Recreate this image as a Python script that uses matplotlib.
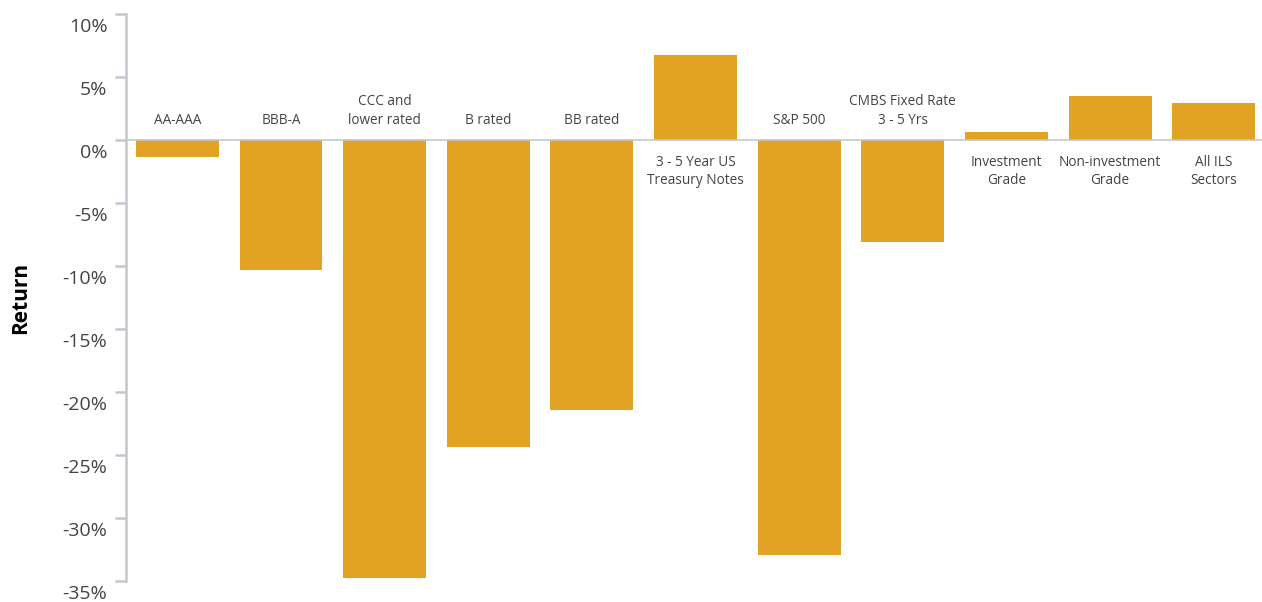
import matplotlib
matplotlib.use('Agg')
import matplotlib.pyplot as plt
from matplotlib.transforms import ScaledTranslation
from matplotlib.ticker import FuncFormatter

categories = ["AA-AAA", "BBB-A", "CCC and\nlower rated", "B rated", "BB rated",
              "3 - 5 Year US\nTreasury Notes", "S&P 500", "CMBS Fixed Rate\n3 - 5 Yrs",
              "Investment\nGrade", "Non-investment\nGrade", "All ILS\nSectors"]
returns = [-1.35, -10.3, -34.8, -24.4, -21.4, 6.75, -32.9, -8.1, 0.6, 3.5, 2.9]
yticks = [10, 5, 0, -5, -10, -15, -20, -25, -30, -35]

BAR = '#E2A224'
GRID = '#C3C7CC'
TXT = '#444444'

plt.rcParams['font.family'] = ['Open Sans', 'DejaVu Sans']

fig = plt.figure(figsize=(12.62, 6.02), dpi=100)
ax = fig.add_axes([125.5 / 1262, 1 - 581 / 602, 1140 / 1262, 567 / 602])

x = range(len(categories))
ax.bar(x, returns, width=0.8, color=BAR, zorder=2)
ax.axhline(0, color=GRID, lw=1.2, zorder=3)

for i, (lab, v) in enumerate(zip(categories, returns)):
    if v < 0:
        ax.annotate(lab, (i, 0), xytext=(0, 8.5), textcoords='offset points',
                    ha='center', va='bottom', fontsize=9.8, color=TXT, linespacing=1.35)
    else:
        ax.annotate(lab, (i, 0), xytext=(0, -10.5), textcoords='offset points',
                    ha='center', va='top', fontsize=9.8, color=TXT, linespacing=1.35)

ax.set_xlim(-0.5, len(categories) - 0.5)
ax.set_ylim(-35, 10)
ax.set_xticks([])
ax.set_yticks(yticks)
ax.yaxis.set_major_formatter(FuncFormatter(lambda v, p: f"{v:.0f}%"))
ax.tick_params(axis='y', length=8, width=1.8, color=GRID, pad=5,
               labelsize=14, labelcolor=TXT)

for s in ['top', 'right', 'bottom']:
    ax.spines[s].set_visible(False)
ax.spines['left'].set_color(GRID)
ax.spines['left'].set_linewidth(1.8)

off = ScaledTranslation(0, -11 / 100, fig.dpi_scale_trans)
for lbl in ax.get_yticklabels():
    lbl.set_transform(lbl.get_transform() + off)

ax.set_ylabel("Return", fontsize=15, fontweight='bold', color='black')
ax.yaxis.set_label_coords(-0.083, 0.5)

fig.savefig("out.png", dpi=100)
